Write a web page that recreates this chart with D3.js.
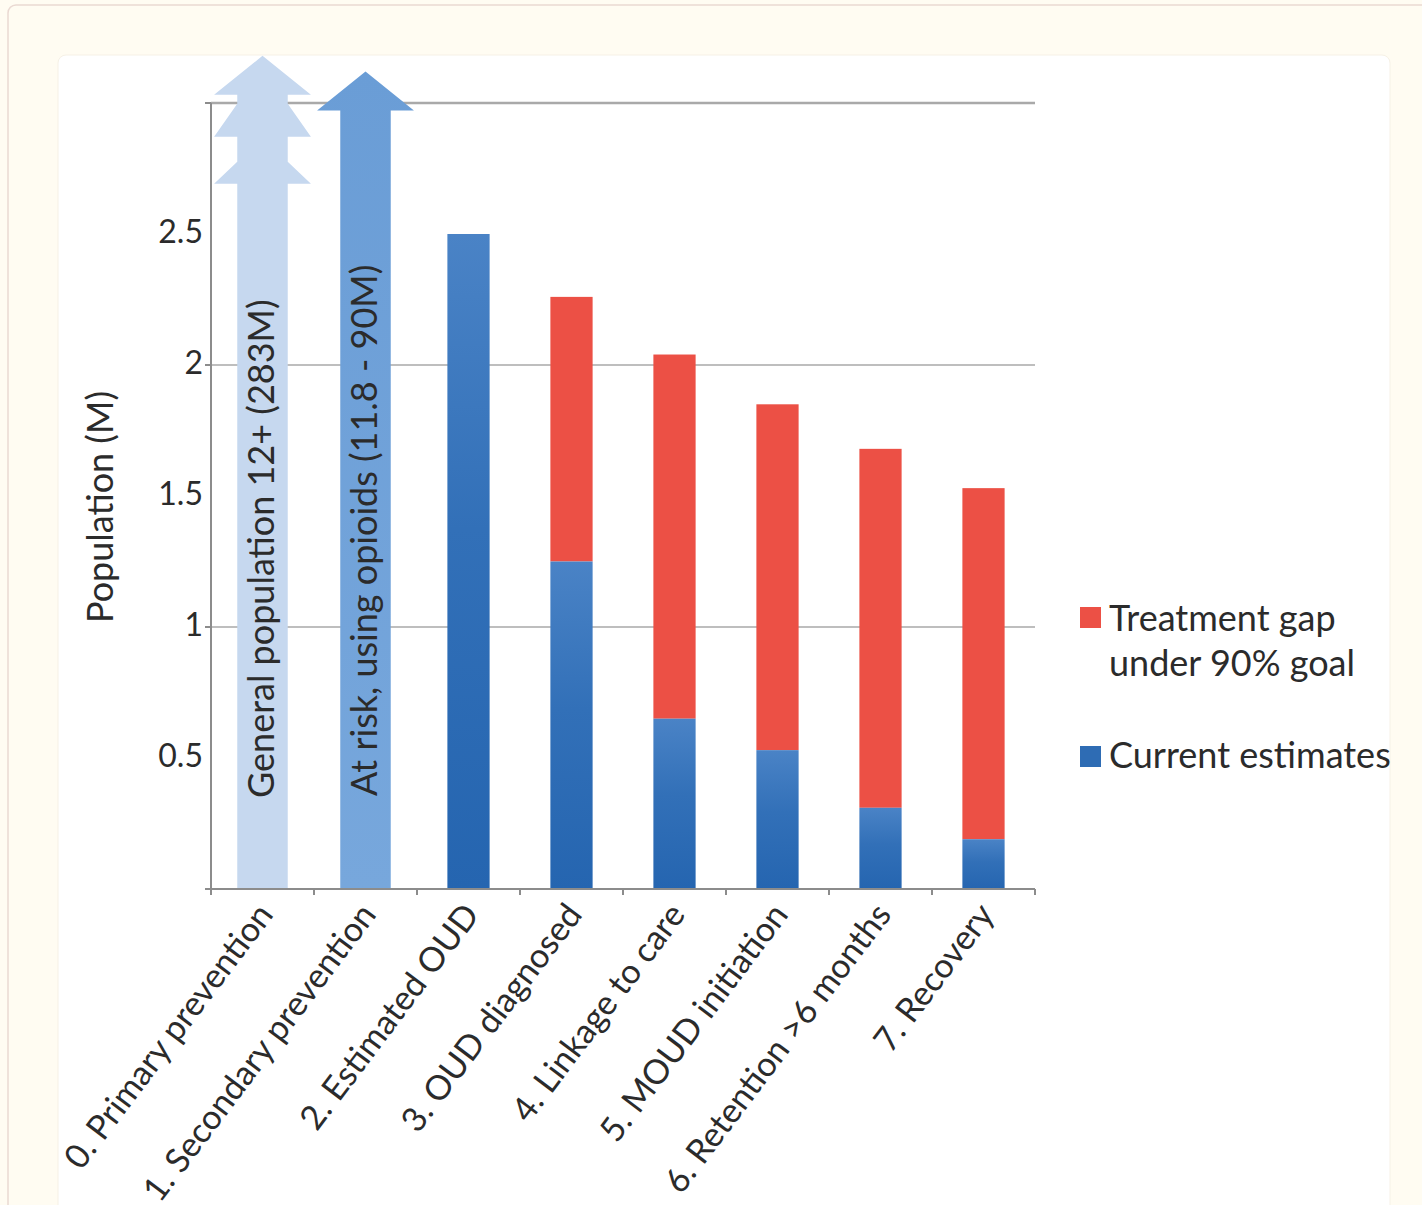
<!DOCTYPE html>
<html>
<head>
<meta charset="utf-8">
<script src="https://cdn.jsdelivr.net/npm/d3@7"></script>
<style>
  html, body { margin: 0; padding: 0; background: #fffcf2; }
  svg { display: block; }
</style>
</head>
<body>
<svg id="chart" width="1422" height="1205"></svg>
<script>
// Opioid use disorder cascade of care (population in millions)
const categories = [
  "0. Primary prevention",
  "1. Secondary prevention",
  "2. Estimated OUD",
  "3. OUD diagnosed",
  "4. Linkage to care",
  "5. MOUD initiation",
  "6. Retention >6 months",
  "7. Recovery"
];
// Current estimates (blue) and the treatment gap under the 90% goal (red), stages 2-7
const stageCategories = categories.slice(2);
const currentEstimates = [2.50, 1.25, 0.65, 0.53, 0.31, 0.19];
const treatmentGap     = [0.00, 1.01, 1.39, 1.32, 1.37, 1.34];

// Prevention stages drawn as open-ended arrows (populations far beyond the axis)
const arrowLabels = ["General population 12+ (283M)", "At risk, using opioids (11.8 - 90M)"];
const arrowTips = [3.18, 3.12];

const yTickLabels = [0.5, 1, 1.5, 2, 2.5];
const gridValues = [1, 2, 3];
const majorTicks = [0, 1, 2, 3];

const legendItems = [
  { lines: ["Treatment gap", "under 90% goal"], key: "gap" },
  { lines: ["Current estimates"], key: "current" }
];

const colors = {
  gap: "#ec5045",
  current: "#2e6cb4",
  arrowLight: "#c6d8ef",
  arrowMid: "#6d9fd7",
  grid: "#a9a9a9",
  axis: "#8c8c8c",
  text: "#2b2b2b"
};

const svg = d3.select("#chart");
const font = "Lato, 'Open Sans', sans-serif";

// Page frame and white panel
svg.append("rect").attr("x", 8).attr("y", 5).attr("width", 1430).attr("height", 1230)
  .attr("rx", 8).attr("fill", "#fffcf2").attr("stroke", "#ead9d2").attr("stroke-width", 1.5);
svg.append("rect").attr("x", 58).attr("y", 55).attr("width", 1332).attr("height", 1180)
  .attr("rx", 8).attr("fill", "#ffffff").attr("stroke", "#f6f1e6").attr("stroke-width", 1);

const defs = svg.append("defs");
const gBlue = defs.append("linearGradient").attr("id", "blueGrad")
  .attr("x1", 0).attr("y1", 0).attr("x2", 0).attr("y2", 1);
gBlue.append("stop").attr("offset", 0).attr("stop-color", "#4a83c6");
gBlue.append("stop").attr("offset", 0.45).attr("stop-color", "#3270b8");
gBlue.append("stop").attr("offset", 1).attr("stop-color", "#2565b0");
const gMid = defs.append("linearGradient").attr("id", "midGrad")
  .attr("x1", 0).attr("y1", 0).attr("x2", 0).attr("y2", 1);
gMid.append("stop").attr("offset", 0).attr("stop-color", "#6a9dd6");
gMid.append("stop").attr("offset", 1).attr("stop-color", "#77a7dc");

const x = d3.scaleBand().domain(categories).range([211, 1035]).padding(0);
const y = d3.scaleLinear().domain([0, 3]).range([889, 103]);

// Gridlines
svg.append("g").selectAll("line").data(gridValues).join("line")
  .attr("x1", 211).attr("x2", 1035)
  .attr("y1", d => y(d)).attr("y2", d => y(d))
  .attr("stroke", colors.grid).attr("stroke-width", d => d === 3 ? 2.5 : 1.5);

// Prevention arrows
const bw = x.bandwidth();
arrowLabels.forEach((label, i) => {
  const cx = x(categories[i]) + bw / 2;
  const shaft = bw * 0.245;
  const head = bw * 0.47;
  const tip = y(arrowTips[i]);
  const headH = 39;
  const base = y(0);
  let pts;
  if (i === 0) {
    // layered arrow: main head plus two flared tiers below it
    const t2 = tip + 48, t3 = tip + 106;
    pts = [
      [cx, tip], [cx + head, tip + headH], [cx + shaft, tip + headH],
      [cx + shaft, t2], [cx + head, t2 + 33], [cx + shaft, t2 + 33],
      [cx + shaft, t3], [cx + head, t3 + 22], [cx + shaft, t3 + 22],
      [cx + shaft, base], [cx - shaft, base],
      [cx - shaft, t3 + 22], [cx - head, t3 + 22], [cx - shaft, t3],
      [cx - shaft, t2 + 33], [cx - head, t2 + 33], [cx - shaft, t2],
      [cx - shaft, tip + headH], [cx - head, tip + headH]
    ];
  } else {
    pts = [
      [cx, tip], [cx + head, tip + headH], [cx + shaft, tip + headH],
      [cx + shaft, base], [cx - shaft, base],
      [cx - shaft, tip + headH], [cx - head, tip + headH]
    ];
  }
  svg.append("path")
    .attr("d", d3.line()(pts) + "Z")
    .attr("fill", i === 0 ? colors.arrowLight : "url(#midGrad)");
  svg.append("text")
    .attr("transform", `translate(${cx + 11},${i === 0 ? 798 : 796}) rotate(-90)`)
    .attr("font-family", font).attr("font-size", 36).attr("fill", colors.text)
    .text(label);
});

// Stacked bars: current estimates at the base, treatment gap on top
const stack = stageCategories.map((c, i) => ({ c, cur: currentEstimates[i], gap: treatmentGap[i] }));
const barW = bw * 0.41;
const bars = svg.append("g");
bars.selectAll("rect.gap").data(stack.filter(d => d.gap > 0)).join("rect")
  .attr("class", "gap")
  .attr("x", d => x(d.c) + (bw - barW) / 2).attr("width", barW)
  .attr("y", d => y(d.cur + d.gap)).attr("height", d => y(d.cur) - y(d.cur + d.gap))
  .attr("fill", colors.gap);
bars.selectAll("rect.cur").data(stack).join("rect")
  .attr("class", "cur")
  .attr("x", d => x(d.c) + (bw - barW) / 2).attr("width", barW)
  .attr("y", d => y(d.cur)).attr("height", d => y(0) - y(d.cur))
  .attr("fill", "url(#blueGrad)");

// Y axis line and major tick marks
svg.append("line").attr("x1", 211).attr("x2", 211).attr("y1", y(3)).attr("y2", y(0))
  .attr("stroke", colors.axis).attr("stroke-width", 2);
svg.append("g").selectAll("line").data(majorTicks).join("line")
  .attr("x1", 205).attr("x2", 211).attr("y1", d => y(d)).attr("y2", d => y(d))
  .attr("stroke", colors.axis).attr("stroke-width", 2);

// Y tick labels
const yAxis = svg.append("g").attr("transform", "translate(203,0)")
  .call(d3.axisLeft(y).tickValues(yTickLabels).tickSize(0).tickPadding(0).tickFormat(d3.format("")));
yAxis.select(".domain").remove();
yAxis.selectAll("text").attr("font-family", font).attr("font-size", 32).attr("fill", colors.text)
  .attr("dy", "0.25em");

// X axis
const xAxis = svg.append("g").attr("transform", `translate(0,${y(0)})`);
xAxis.append("line").attr("x1", 211).attr("x2", 1035).attr("stroke", colors.axis).attr("stroke-width", 2);
xAxis.selectAll("line.tick").data(d3.range(categories.length + 1)).join("line")
  .attr("class", "tick")
  .attr("x1", i => 211 + i * bw).attr("x2", i => 211 + i * bw)
  .attr("y1", 0).attr("y2", 6)
  .attr("stroke", colors.axis).attr("stroke-width", 2);
xAxis.selectAll("text").data(categories).join("text")
  .attr("transform", d => `translate(${x(d) + bw / 2 + 12},${26}) rotate(-53)`)
  .attr("text-anchor", "end")
  .attr("font-family", font).attr("font-size", 34).attr("fill", colors.text)
  .text(d => d);

// Y axis title
svg.append("text")
  .attr("transform", "translate(113,507) rotate(-90)")
  .attr("text-anchor", "middle")
  .attr("font-family", font).attr("font-size", 36).attr("fill", colors.text)
  .text("Population (M)");

// Legend
const legend = svg.append("g").attr("transform", "translate(1080,0)");
const legendBox = [607, 746];
const legendBaseline = [631, 768];
legendItems.forEach((item, i) => {
  legend.append("rect").attr("x", 0).attr("y", legendBox[i]).attr("width", 21).attr("height", 21)
    .attr("fill", colors[item.key]);
  item.lines.forEach((ln, j) => {
    legend.append("text").attr("x", 29).attr("y", legendBaseline[i] + j * 45)
      .attr("font-family", font).attr("font-size", 36).attr("fill", colors.text)
      .text(ln);
  });
});
</script>
</body>
</html>
